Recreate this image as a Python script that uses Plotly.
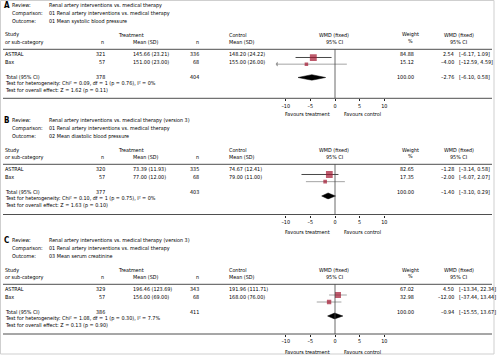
import plotly.graph_objects as go

W, H = 497, 361

# ---------------- data ----------------
panel_letters = ["A", "B", "C"]
reviews = ["Renal artery interventions vs. medical therapy",
           "Renal artery interventions vs. medical therapy (version 3)",
           "Renal artery interventions vs. medical therapy (version 3)"]
comparisons = ["01 Renal artery interventions vs. medical therapy"] * 3
outcomes = ["01 Mean systolic blood pressure",
            "02 Mean diastolic blood pressure",
            "03 Mean serum creatinine"]

studies = ["ASTRAL", "Bax"]
trt_n = [[321, 57], [320, 57], [329, 57]]
trt_mean_sd = [["145.66 (23.21)", "151.00 (23.00)"],
               ["73.39 (11.93)", "77.00 (12.00)"],
               ["196.46 (123.69)", "156.00 (69.00)"]]
ctl_n = [[336, 68], [335, 68], [343, 68]]
ctl_mean_sd = [["148.20 (24.22)", "155.00 (26.00)"],
               ["74.67 (12.41)", "79.00 (11.00)"],
               ["191.96 (111.71)", "168.00 (76.00)"]]
weights = [[84.88, 15.12], [82.65, 17.35], [67.02, 32.98]]
wmd_text = [["2.54", "–4.00"], ["–1.28", "–2.00"], ["4.50", "–12.00"]]
ci_text = [["[–6.17, 1.09]", "[–12.59, 4.59]"],
           ["[–3.14, 0.58]", "[–6.07, 2.07]"],
           ["[–13.34, 22.34]", "[–37.44, 13.44]"]]
total_trt_n = [378, 377, 386]
total_ctl_n = [404, 403, 411]
total_weight = ["100.00", "100.00", "100.00"]
total_wmd_text = ["–2.76", "–1.40", "–0.94"]
total_ci_text = ["[–6.10, 0.58]", "[–3.10, 0.29]", "[–15.55, 13.67]"]
heterogeneity = ["Chi² = 0.09, df = 1 (p = 0.76), I² = 0%",
                 "Chi² = 0.10, df = 1 (p = 0.75), I² = 0%",
                 "Chi² = 1.08, df = 1 (p = 0.30), I² = 7.7%"]
overall = ["Z = 1.62 (p = 0.11)", "Z = 1.63 (p = 0.10)", "Z = 0.13 (p = 0.90)"]

# effects as drawn in the forest plots (axis units)
est = [[-4.4, -5.8], [-1.15, -2.0], [0.6, -1.2]]
lo = [[-8.0, -12.6], [-6.8, -5.9], [-1.2, -3.7]]
hi = [[-0.7, 2.4], [0.7, 2.0], [2.4, 1.3]]
tot_est = [-4.7, -1.4, -0.1]
tot_lo = [-7.5, -2.7, -1.5]
tot_hi = [-1.9, 0.1, 1.6]

tick_vals = [-10, -5, 0, 5, 10]
tick_text = ["–10", "–5", "0", "5", "10"]
x_range = [-12, 12]
study_rows = [0, 1]
total_row = 3

# ---------------- layout helpers ----------------
FONT = "DejaVu Sans Condensed, Liberation Sans Narrow, sans-serif"
FS = 5.4
TXT = "#000000"
BOX = "#a3152f"

# pixel layout per panel
text_off = [0, 115, 235]
bottom_line = [98.3, 214.5, 334.0]
favours_y = [114.5, 231.7, 352.0]
marker_top = [57.5, 174.5, 295.0]
marker_tot = [77.5, 196.0, 316.0]

X0PX, PXU = 335.0, 4.93


def py(p):
    return 1 - p / H


def px(p):
    return p / W


annotations = []
shapes = []


def txt(x, y, s, anchor="left", size=FS, bold=False):
    annotations.append(dict(
        x=px(x), y=py(y), xref="paper", yref="paper", text=("<b>%s</b>" % s) if bold else s,
        showarrow=False, xanchor=anchor, yanchor="middle",
        font=dict(family=FONT, size=size, color=TXT)))


def hline(y, x0=3, x1=492, color="#222", width=0.8):
    shapes.append(dict(type="line", xref="paper", yref="paper",
                       x0=px(x0), x1=px(x1), y0=py(y), y1=py(y),
                       line=dict(color=color, width=width)))


fig = go.Figure()
layout_axes = {}

for i in range(3):
    o = text_off[i]
    sfx = "" if i == 0 else str(i + 1)
    xa, ya = "x" + sfx, "y" + sfx

    # header block
    txt(1.5, 5.5 + o, panel_letters[i], size=8, bold=True)
    txt(10, 5.3 + o, "Review:")
    txt(10, 13.3 + o, "Comparison:")
    txt(10, 21.3 + o, "Outcome:")
    txt(46.7, 5.3 + o, reviews[i])
    txt(46.7, 13.3 + o, comparisons[i])
    txt(46.7, 21.3 + o, outcomes[i])

    # column headers
    txt(3, 35 + o, "Study")
    txt(3, 42 + o, "or sub-category")
    txt(130.5, 35 + o, "Treatment", anchor="center")
    txt(102.5, 42 + o, "n", anchor="center")
    txt(130.5, 42 + o, "Mean (SD)")
    txt(227, 35 + o, "Control")
    txt(197, 42 + o, "n", anchor="center")
    txt(227, 42 + o, "Mean (SD)")
    txt(333.5, 35 + o, "WMD (fixed)", anchor="center")
    txt(334, 42 + o, "95% CI", anchor="center")
    txt(410, 35 + o, "Weight", anchor="center")
    txt(410, 41 + o, "%", anchor="center")
    txt(458.7, 35 + o, "WMD (fixed)", anchor="center")
    txt(458, 42 + o, "95% CI", anchor="center")
    hline(49.3 + o)

    # study rows
    for j, s in enumerate(studies):
        y = 54 + 7.6 * j + o
        txt(3, y, s)
        txt(106.5, y, str(trt_n[i][j]), anchor="right")
        txt(131, y, trt_mean_sd[i][j])
        txt(200.5, y, str(ctl_n[i][j]), anchor="right")
        txt(227, y, ctl_mean_sd[i][j])
        txt(415.5, y, "%.2f" % weights[i][j], anchor="right")
        txt(455.5, y, wmd_text[i][j], anchor="right")
        txt(457.3, y, ci_text[i][j])

    # total rows
    y = 77 + o
    txt(3, y, "Total (95% CI)")
    txt(106.5, y, str(total_trt_n[i]), anchor="right")
    txt(200.5, y, str(total_ctl_n[i]), anchor="right")
    txt(415.5, y, total_weight[i], anchor="right")
    txt(455.5, y, total_wmd_text[i], anchor="right")
    txt(457.3, y, total_ci_text[i])
    txt(3, 83.5 + o, "Test for heterogeneity: " + heterogeneity[i])
    txt(3, 90.8 + o, "Test for overall effect: " + overall[i])

    hline(bottom_line[i])
    txt(332, favours_y[i], "Favours treatment", anchor="right")
    txt(341.5, favours_y[i], "Favours control", anchor="left")

    # axes
    xl = X0PX + PXU * x_range[0]
    xr = X0PX + PXU * x_range[1]
    s_row = (marker_tot[i] - marker_top[i]) / total_row
    top_px = marker_top[i] - 0.5 * s_row
    bot_px = marker_top[i] + (total_row + 0.5) * s_row
    layout_axes["xaxis" + sfx] = dict(
        domain=[px(xl), px(xr)], range=x_range, anchor="free",
        position=py(bottom_line[i]), tickvals=tick_vals, ticktext=tick_text,
        ticks="outside", ticklen=2, tickwidth=0.8, tickcolor="#222",
        showline=False, showgrid=False, zeroline=False,
        tickfont=dict(family=FONT, size=FS, color=TXT), fixedrange=True)
    layout_axes["yaxis" + sfx] = dict(
        domain=[py(bot_px), py(top_px)], range=[total_row + 0.5, -0.5],
        visible=False, fixedrange=True, anchor=xa)

    # zero line
    shapes.append(dict(type="line", xref=xa, yref="paper", x0=0, x1=0,
                       y0=py(bottom_line[i]), y1=py(49.3 + o),
                       line=dict(color="#444", width=0.8)))

    # CI lines
    for j in range(2):
        col = "#333333" if (j == 0 and i < 2) else "#9a9a9a"
        l = max(lo[i][j], x_range[0] + 0.2)
        h_ = min(hi[i][j], x_range[1] - 0.2)
        fig.add_trace(go.Scatter(x=[l, h_], y=[study_rows[j]] * 2, mode="lines",
                                 line=dict(color=col, width=0.9), xaxis=xa, yaxis=ya,
                                 showlegend=False, hoverinfo="skip"))
        if lo[i][j] < x_range[0] + 0.2:
            fig.add_trace(go.Scatter(x=[l], y=[study_rows[j]], mode="markers",
                                     marker=dict(symbol="triangle-left", size=4, color=col),
                                     xaxis=xa, yaxis=ya, showlegend=False, hoverinfo="skip"))
    # boxes
    fig.add_trace(go.Scatter(x=est[i], y=study_rows, mode="markers",
                             marker=dict(symbol="square", color=BOX,
                                         size=[2.8 + w * 0.048 for w in weights[i]],
                                         line=dict(width=0)),
                             xaxis=xa, yaxis=ya, showlegend=False))
    # diamond
    hh = 0.42
    fig.add_trace(go.Scatter(
        x=[tot_lo[i], tot_est[i], tot_hi[i], tot_est[i], tot_lo[i]],
        y=[total_row, total_row - hh, total_row, total_row + hh, total_row],
        mode="lines", fill="toself", fillcolor="#000", line=dict(color="#000", width=0.5),
        xaxis=xa, yaxis=ya, showlegend=False, hoverinfo="skip"))

# outer border
shapes.append(dict(type="rect", xref="paper", yref="paper", x0=px(0.5), x1=px(494),
                   y0=py(354), y1=py(0.5), line=dict(color="#cfcfcf", width=1)))

fig.update_layout(width=W, height=H, margin=dict(l=0, r=0, t=0, b=0),
                  paper_bgcolor="white", plot_bgcolor="rgba(0,0,0,0)",
                  annotations=annotations, shapes=shapes, showlegend=False,
                  font=dict(family=FONT, size=FS, color=TXT), **layout_axes)

fig.write_html("out.html", config={"displayModeBar": False},
               post_script="document.body.style.margin='0';document.body.style.overflow='hidden';")
